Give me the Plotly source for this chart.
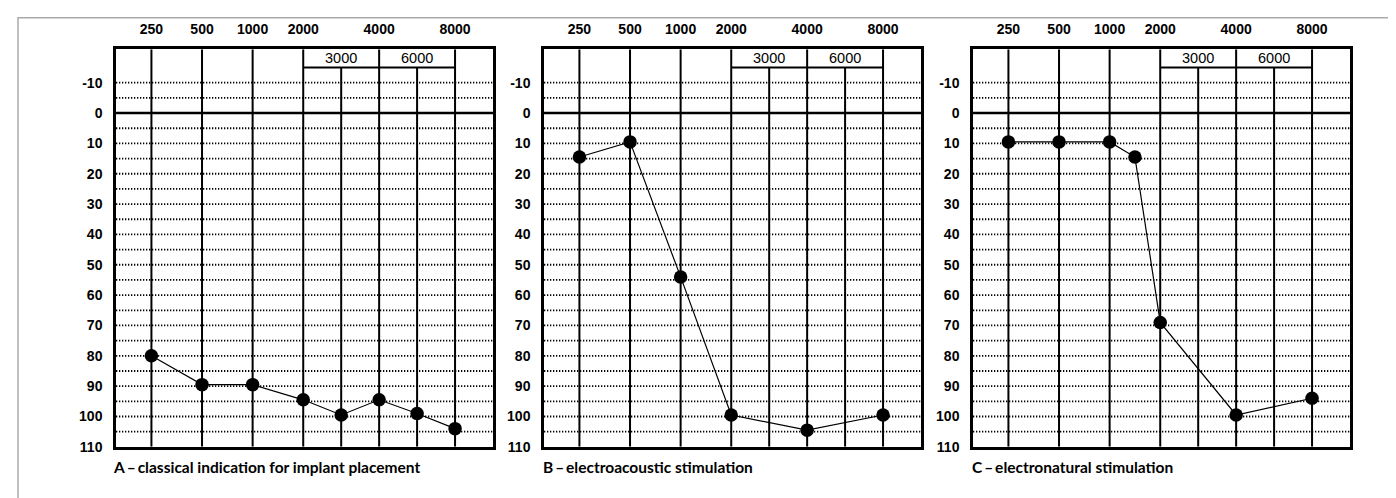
import numpy as np
import plotly.graph_objects as go

# ---- data ----
top_freqs = [250, 500, 1000, 2000, 4000, 8000]
top_labels = ["250", "500", "1000", "2000", "4000", "8000"]
mid_freqs = [3000, 6000]
mid_labels = ["3000", "6000"]
db_ticks = [-10, 0, 10, 20, 30, 40, 50, 60, 70, 80, 90, 100, 110]

freqs_A = [250, 500, 1000, 2000, 3000, 4000, 6000, 8000]
thr_A = [80, 89.5, 89.5, 94.5, 99.5, 94.5, 99, 104]
freqs_B = [250, 500, 1000, 2000, 4000, 8000]
thr_B = [14.5, 9.5, 54, 99.5, 104.5, 99.5]
freqs_C = [250, 500, 1000, 1500, 2000, 4000, 8000]
thr_C = [9.5, 9.5, 9.5, 14.5, 69, 99.5, 94]

titles = ["A\u2009–\u2009classical indication for implant placement",
          "B\u2009–\u2009electroacoustic stimulation",
          "C\u2009–\u2009electronatural stimulation"]

# ---- audiogram frequency scale (octave anchors, wider high octaves) ----
anchor_f = [250, 500, 1000, 2000, 4000, 8000]
anchor_p = [0, 1, 2, 3, 4.5, 6]


def fpos(f):
    return np.interp(f, anchor_f, anchor_p)


W, H = 1396, 498
panels_px = [(108, 485), (536, 913), (965, 1342)]
caption_px = [103, 533, 962]
y_top_px, y_bot_px = 42, 446
XR = [-0.7, 6.75]
YR = [110, -21]

fig = go.Figure()
shapes = []
annotations = []
num_family = "Liberation Sans, Arial, sans-serif"

for i, (fr, th) in enumerate([(freqs_A, thr_A), (freqs_B, thr_B), (freqs_C, thr_C)]):
    n = "" if i == 0 else str(i + 1)
    xa, ya = "x" + n, "y" + n
    fig.add_trace(go.Scatter(
        x=fpos(fr), y=th, xaxis=xa, yaxis=ya, mode="lines+markers",
        line=dict(color="black", width=1.2),
        marker=dict(color="black", size=13.5),
        showlegend=False, hoverinfo="skip"))

    x0, x1 = panels_px[i]
    fig.update_layout(**{
        "xaxis" + n: dict(
            domain=[x0 / W, x1 / W], range=XR, side="top",
            tickvals=fpos(top_freqs), ticktext=top_labels,
            tickfont=dict(family=num_family, size=14, color="black", weight="bold"),
            ticks="", ticklabelstandoff=7, showgrid=False, zeroline=False,
            showline=True, mirror=True, linecolor="black", linewidth=2.5,
            anchor=ya, fixedrange=True),
        "yaxis" + n: dict(
            domain=[1 - y_bot_px / H, 1 - y_top_px / H], range=YR,
            tickvals=db_ticks, ticktext=[str(v) for v in db_ticks],
            tickfont=dict(family=num_family, size=14, color="black", weight="bold"),
            ticks="", ticklabelstandoff=8,
            showgrid=False, zeroline=False,
            showline=True, mirror=True, linecolor="black", linewidth=2.5,
            anchor=xa, fixedrange=True),
    })

    # dotted 5 dB lines
    for d in range(-10, 110, 5):
        if d == 0:
            continue
        shapes.append(dict(type="line", xref=xa, yref=ya, x0=XR[0], x1=XR[1], y0=d, y1=d,
                           line=dict(color="black", width=1.8, dash="1.3px,1.7px"), layer="below"))
    # zero line
    shapes.append(dict(type="line", xref=xa, yref=ya, x0=XR[0], x1=XR[1], y0=0, y1=0,
                       line=dict(color="black", width=2.5)))
    # octave vertical lines
    for f in top_freqs:
        shapes.append(dict(type="line", xref=xa, yref=ya, x0=fpos(f), x1=fpos(f), y0=110, y1=-21,
                           line=dict(color="black", width=2)))
    # half-octave lines and box
    for f in mid_freqs:
        shapes.append(dict(type="line", xref=xa, yref=ya, x0=fpos(f), x1=fpos(f), y0=110, y1=-15,
                           line=dict(color="black", width=2)))
    shapes.append(dict(type="line", xref=xa, yref=ya, x0=fpos(2000), x1=fpos(8000), y0=-15, y1=-15,
                       line=dict(color="black", width=2)))
    for f, lab in zip(mid_freqs, mid_labels):
        annotations.append(dict(x=fpos(f), y=-18.2, xref=xa, yref=ya, text=lab, showarrow=False,
                                font=dict(family=num_family, size=14.5, color="black"),
                                xanchor="center", yanchor="middle"))
    # panel caption
    annotations.append(dict(x=caption_px[i] / W, y=1 - 467 / H, xref="paper", yref="paper",
                            text=titles[i], showarrow=False,
                            xanchor="left", yanchor="middle",
                            font=dict(family="Lato, sans-serif", size=15.5,
                                      color="black", weight="bold")))

# outer light border
shapes.append(dict(type="rect", xref="paper", yref="paper", x0=10 / W, x1=1.02, y0=-0.05, y1=1 - 10 / H,
                   line=dict(color="#aaaaaa", width=1.5), fillcolor="rgba(0,0,0,0)"))

fig.update_layout(width=W, height=H, margin=dict(l=0, r=0, t=0, b=0),
                  paper_bgcolor="white", plot_bgcolor="white",
                  shapes=shapes, annotations=annotations)

fig.write_html("out.html")
